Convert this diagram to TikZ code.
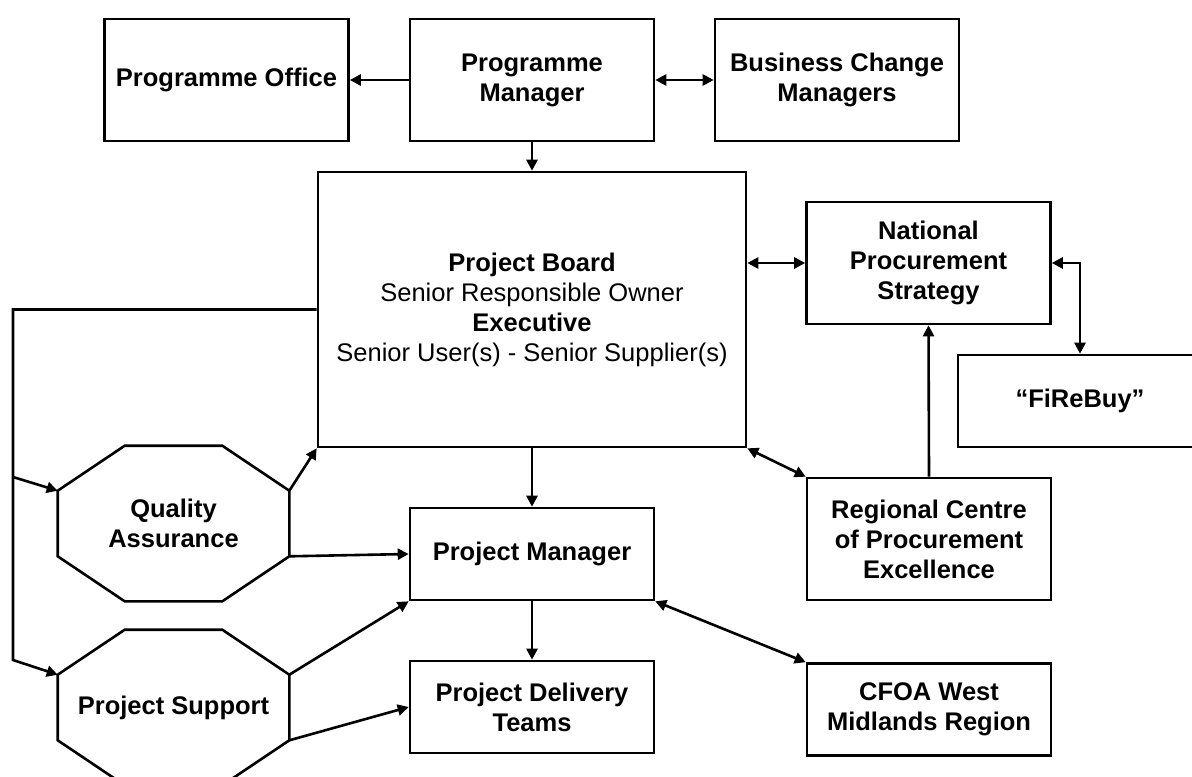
\documentclass[tikz,border=0pt]{standalone}
\usepackage{fontspec}
\setmainfont{Liberation Sans}
\usetikzlibrary{arrows.meta}

\begin{document}
\begin{tikzpicture}[
    x=0.5pt, y=-0.5pt,
    >={Triangle[length=5.5pt, width=5.5pt]},
    line width=1.3pt,
    every node/.style={font=\fontsize{12.75}{15}\selectfont},
    box/.style={draw=black, line width=1.3pt, align=center, inner sep=2pt,
                minimum width=122pt, minimum height=61pt,
                font=\fontsize{12.75}{15}\selectfont\bfseries},
    box low/.style={box, minimum height=46pt},
    octo/.style={inner sep=0pt, align=center, minimum width=114.5pt, minimum height=76.5pt,
                 font=\fontsize{12.75}{15}\selectfont\bfseries},
]

\def\cx{33.5pt}  % octagon corner cut, across
\def\cy{22.5pt}  % octagon corner cut, down

\useasboundingbox (0,0) rectangle (1192,776);
\clip (0,0) rectangle (1192,776);

% Programme level
\node[box] (PO)    at (226.5, 80) {Programme Office};
\node[box] (ProgM) at (532, 80)   {Programme\\Manager};
\node[box] (BCM)   at (837, 80)   {Business Change\\Managers};

% Project board
\node[draw=black, line width=1.3pt, align=center, minimum width=214pt, minimum height=137.5pt]
    (Board) at (532, 309.5)
    {\textbf{Project Board}\\Senior Responsible Owner\\\textbf{Executive}\\Senior User(s) - Senior Supplier(s)};

% Procurement side
\node[box]     (NPS)  at (928.5, 263) {National\\Procurement\\Strategy};
\node[box low] (FRB)  at (1080, 401)  {“FiReBuy”};
\node[box]     (RCPE) at (929, 539)   {Regional Centre\\of Procurement\\Excellence};
\node[box low] (CFOA) at (929, 709.5) {CFOA West\\Midlands Region};

% Project level
\node[box low] (PM)  at (532, 554) {Project Manager};
\node[box low] (PDT) at (532, 707) {Project Delivery\\Teams};

% Assurance and support
\node[octo] (QA) at (173.5, 523.5) {Quality\\Assurance};
\node[octo] (PS) at (173.5, 707.5) {Project Support};

\foreach \o in {QA, PS} {
    \draw ([xshift=\cx]\o.north west) -- ([xshift=-\cx]\o.north east)
        -- ([yshift=-\cy]\o.north east) -- ([yshift=\cy]\o.south east)
        -- ([xshift=-\cx]\o.south east) -- ([xshift=\cx]\o.south west)
        -- ([yshift=\cy]\o.south west) -- ([yshift=-\cy]\o.north west) -- cycle;
    \coordinate (\o-ul) at ([yshift=-\cy]\o.north west);
    \coordinate (\o-ur) at ([yshift=-\cy]\o.north east);
    \coordinate (\o-lr) at ([yshift=\cy]\o.south east);
}

% Programme links
\draw[->] (ProgM.west) -- (PO.east);
\draw[<->] (ProgM.east) -- (BCM.west);
\draw[->] (ProgM.south) -- (Board.north);

% Procurement links
\draw[<->] (Board.east |- NPS.west) -- (NPS.west);
\draw[<->] (NPS.east) -| (FRB.north);
\draw[->] (RCPE.north) -- (NPS.south);
\draw[<->] (Board.south east) -- (RCPE.north west);
\draw[<->] (PM.south east) -- (CFOA.north west);

% Project links
\draw[->] (Board.south) -- (PM.north);
\draw[->] (PM.south) -- (PDT.north);

% Rail down the left side
\coordinate (railQA) at (13, 477);
\coordinate (railPS) at (13, 660);
\draw[->] (Board.west) -| (railPS) -- (PS-ul);
\draw[->] (railQA) -- (QA-ul);

\draw[->] (QA-ur) -- (Board.south west);
\draw[->] (QA-lr) -- (PM.west);
\draw[->] (PS-ur) -- (PM.south west);
\draw[->] (PS-lr) -- (PDT.west);

\end{tikzpicture}
\end{document}
